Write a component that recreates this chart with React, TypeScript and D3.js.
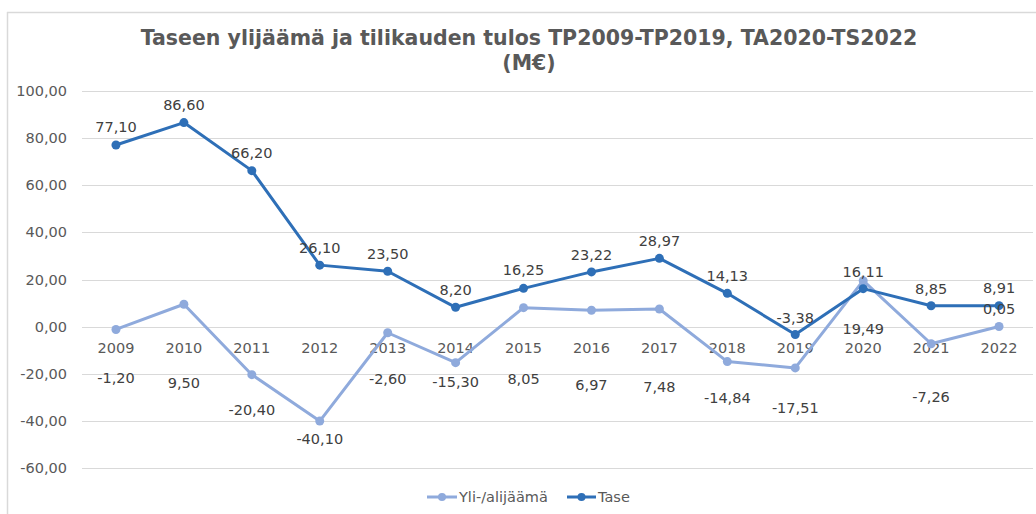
import React from "react";
import * as d3 from "d3";

const years = ["2009","2010","2011","2012","2013","2014","2015","2016","2017","2018","2019","2020","2021","2022"];
const yliValues = [-1.2, 9.5, -20.4, -40.1, -2.6, -15.3, 8.05, 6.97, 7.48, -14.84, -17.51, 19.49, -7.26, 0.05];
const taseValues = [77.1, 86.6, 66.2, 26.1, 23.5, 8.2, 16.25, 23.22, 28.97, 14.13, -3.38, 16.11, 8.85, 8.91];
const yTicks = [-60, -40, -20, 0, 20, 40, 60, 80, 100];
const seriesNames = ["Yli-/alijäämä", "Tase"];
const titleLines = ["Taseen ylijäämä ja tilikauden tulos TP2009-TP2019, TA2020-TS2022", "(M€)"];
// manual label offsets (px) as placed in the reference
const yliLabelDy = [48, 79, 35, 18, 46, 19, 71, 75, 78, 36, 40, 48, 53, -18];
const taseLabelDy = [-18, -18, -18, -17, -17, -17, -18, -17, -17, -17, -17, -17, -17, -18];

const W = 1036, H = 514;
const C_TASE = "#2E6FB7";
const C_YLI = "#8FAADC";
const FONT = "'DejaVu Sans', Verdana, sans-serif";
const fmt = (v: number) => v.toFixed(2).replace(".", ",");

export default function App() {
  const x = d3.scaleBand<string>().domain(years).range([82, 1033]);
  const y = d3.scaleLinear().domain([-60, 100]).range([468, 91]);
  const cx = (i: number) => (x(years[i]) as number) + x.bandwidth() / 2;
  const line = d3.line<number>().x((_, i) => cx(i)).y((d) => y(d));

  const series = [
    { name: seriesNames[0], values: yliValues, color: C_YLI, dy: yliLabelDy },
    { name: seriesNames[1], values: taseValues, color: C_TASE, dy: taseLabelDy },
  ];

  return (
    <svg width={W} height={H} style={{ position: "absolute", left: 0, top: 0, background: "#fff" }} fontFamily={FONT}>
      <rect x={0} y={0} width={W} height={H} fill="#fff" />
      <line x1={7} x2={W} y1={12.5} y2={12.5} stroke="#D9D9D9" strokeWidth={1.5} />
      <line x1={7.5} x2={7.5} y1={12} y2={H} stroke="#D9D9D9" strokeWidth={1.5} />
      {titleLines.map((t, i) => (
        <text key={i} x={529} y={45 + i * 25} textAnchor="middle" fontSize={20.5} fontWeight="bold" fill="#595959">{t}</text>
      ))}
      {yTicks.map((t) => (
        <g key={t}>
          <line x1={82} x2={1033} y1={Math.round(y(t)) + 0.5} y2={Math.round(y(t)) + 0.5} stroke="#D9D9D9" strokeWidth={1} />
          <text x={67} y={y(t)} dy="0.35em" textAnchor="end" fontSize={14.5} fill="#595959">{fmt(t)}</text>
        </g>
      ))}
      {years.map((yr, i) => (
        <text key={yr} x={cx(i)} y={y(0) + 21} dy="0.35em" textAnchor="middle" fontSize={14.5} fill="#595959">{yr}</text>
      ))}
      {series.map((s) => (
        <g key={s.name}>
          <path d={line(s.values) || ""} fill="none" stroke={s.color} strokeWidth={3} strokeLinejoin="round" />
          {s.values.map((v, i) => (
            <circle key={i} cx={cx(i)} cy={y(v)} r={4.5} fill={s.color} />
          ))}
        </g>
      ))}
      {series.map((s) => (
        <g key={s.name + "-labels"}>
          {s.values.map((v, i) => (
            <text key={i} x={cx(i)} y={y(v) + s.dy[i]} dy="0.35em" textAnchor="middle" fontSize={14.5} fill="#404040">{fmt(v)}</text>
          ))}
        </g>
      ))}
      <g>
        <line x1={427} x2={457} y1={497} y2={497} stroke={C_YLI} strokeWidth={3} />
        <circle cx={442} cy={497} r={4} fill={C_YLI} />
        <text x={459} y={497} dy="0.35em" fontSize={14.5} fill="#595959">{seriesNames[0]}</text>
        <line x1={567} x2={596} y1={497} y2={497} stroke={C_TASE} strokeWidth={3} />
        <circle cx={581.5} cy={497} r={4} fill={C_TASE} />
        <text x={598} y={497} dy="0.35em" fontSize={14.5} fill="#595959">{seriesNames[1]}</text>
      </g>
    </svg>
  );
}
